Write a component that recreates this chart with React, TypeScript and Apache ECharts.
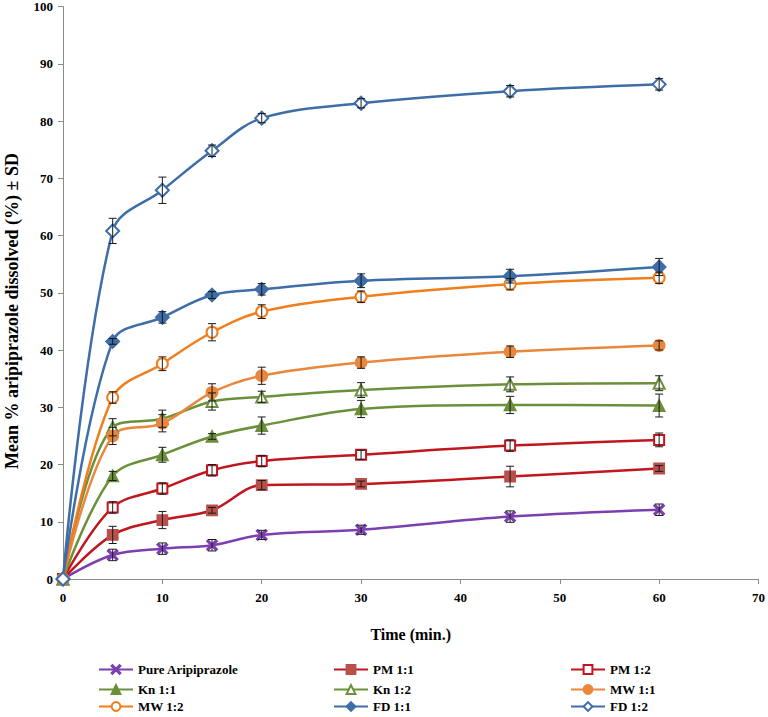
import React, { useEffect, useRef } from "react";
import * as echarts from "echarts";

const times = [0, 5, 10, 15, 20, 30, 45, 60];
const xTicks = [0, 10, 20, 30, 40, 50, 60, 70];
const yTicks = [0, 10, 20, 30, 40, 50, 60, 70, 80, 90, 100];

const seriesNames = [
  "Pure Aripiprazole",
  "PM 1:1",
  "PM 1:2",
  "Kn 1:1",
  "Kn 1:2",
  "MW 1:1",
  "MW 1:2",
  "FD 1:1",
  "FD 1:2",
];

const pureVals = [0, 4.2, 5.3, 5.9, 7.7, 8.6, 10.9, 12.1];
const pureSD = [0, 1.0, 1.0, 1.0, 0.8, 0.8, 1.0, 1.0];
const pm11Vals = [0, 7.7, 10.3, 12.0, 16.4, 16.6, 17.9, 19.3];
const pm11SD = [0, 1.5, 1.5, 0.5, 0.8, 0.5, 1.8, 0.5];
const pm12Vals = [0, 12.5, 15.8, 19.0, 20.6, 21.7, 23.3, 24.3];
const pm12SD = [0, 1.0, 1.0, 1.0, 1.0, 0.8, 1.0, 1.2];
const kn11Vals = [0, 18.0, 21.7, 24.9, 26.8, 29.7, 30.4, 30.3];
const kn11SD = [0, 0.8, 1.3, 0.5, 1.5, 1.5, 1.5, 2.0];
const kn12Vals = [0, 26.5, 28.0, 31.0, 31.8, 33.0, 34.0, 34.2];
const kn12SD = [0, 1.5, 1.5, 1.5, 1.0, 1.3, 1.3, 1.3];
const mw11Vals = [0, 25.0, 27.2, 32.6, 35.5, 37.8, 39.7, 40.8];
const mw11SD = [0, 1.5, 1.5, 1.5, 1.5, 1.0, 1.0, 0.8];
const mw12Vals = [0, 31.7, 37.6, 43.1, 46.7, 49.3, 51.5, 52.6];
const mw12SD = [0, 1.0, 1.2, 1.5, 1.2, 1.0, 1.0, 1.0];
const fd11Vals = [0, 41.5, 45.7, 49.6, 50.6, 52.1, 52.9, 54.5];
const fd11SD = [0, 0.5, 1.0, 0.6, 1.0, 1.2, 1.2, 1.5];
const fd12Vals = [0, 60.8, 67.9, 74.8, 80.5, 83.1, 85.2, 86.4];
const fd12SD = [0, 2.2, 2.3, 1.0, 0.8, 0.8, 1.0, 1.0];

const allVals = [pureVals, pm11Vals, pm12Vals, kn11Vals, kn12Vals, mw11Vals, mw12Vals, fd11Vals, fd12Vals];
const allSD = [pureSD, pm11SD, pm12SD, kn11SD, kn12SD, mw11SD, mw12SD, fd11SD, fd12SD];

const xSymbol = "path://M0,1 L1,0 L5,4 L9,0 L10,1 L6,5 L10,9 L9,10 L5,6 L1,10 L0,9 L4,5 Z";

const styles = [
  { line: "#7B3FB0", marker: "#7B3FB0", symbol: xSymbol, size: 10 },
  { line: "#C0171E", marker: "#B8504C", symbol: "rect", size: 10 },
  { line: "#C0171E", marker: "#C0171E", symbol: "emptyRect", size: 10 },
  { line: "#6C8F3A", marker: "#6C8F3A", symbol: "triangle", size: 11 },
  { line: "#6C8F3A", marker: "#6C8F3A", symbol: "emptyTriangle", size: 11 },
  { line: "#E9873D", marker: "#E9873D", symbol: "circle", size: 11 },
  { line: "#F07E1C", marker: "#F07E1C", symbol: "emptyCircle", size: 11 },
  { line: "#3E6DA8", marker: "#3E6DA8", symbol: "diamond", size: 13 },
  { line: "#3E6DA8", marker: "#3E6DA8", symbol: "emptyDiamond", size: 13 },
];

// legend grid: [name, column, row]
const legendLayout: [string, number, number][] = [
  ["Pure Aripiprazole", 0, 0],
  ["PM 1:1", 1, 0],
  ["PM 1:2", 2, 0],
  ["Kn 1:1", 0, 1],
  ["Kn 1:2", 1, 1],
  ["MW 1:1", 2, 1],
  ["MW 1:2", 0, 2],
  ["FD 1:1", 1, 2],
  ["FD 1:2", 2, 2],
];
const legendLefts = [98, 333, 570];
const legendRowCenters = [670, 690, 707];

const FONT = "'Liberation Serif', 'Times New Roman', serif";

export default function App() {
  const ref = useRef<HTMLDivElement>(null);
  useEffect(() => {
    if (!ref.current) return;
    const chart = echarts.init(ref.current, null, { renderer: "svg" });

    const lineSeries = seriesNames.map((name, i) => ({
      name,
      type: "line",
      smooth: 0.35,
      data: times.map((t, j) => [t, allVals[i][j]]),
      symbol: styles[i].symbol,
      symbolSize: styles[i].size,
      lineStyle: { color: styles[i].line, width: 2.5 },
      itemStyle: { color: styles[i].marker, borderWidth: 1.8, borderColor: styles[i].marker },
      z: 2,
    }));

    const errSeries = seriesNames.map((name, i) => ({
      name: "err " + name,
      type: "custom",
      data: times
        .map((t, j) => [t, allVals[i][j], allSD[i][j]])
        .filter((d) => d[2] > 0),
      encode: { x: 0, y: 1 },
      z: 5,
      renderItem: (params: any, api: any) => {
        const x = api.value(0);
        const y = api.value(1);
        const e = api.value(2);
        const top = api.coord([x, y + e]);
        const bot = api.coord([x, y - e]);
        const w = 4;
        const st = { stroke: "#1a1a1a", lineWidth: 1 };
        return {
          type: "group",
          children: [
            { type: "line", shape: { x1: top[0], y1: top[1], x2: bot[0], y2: bot[1] }, style: st },
            { type: "line", shape: { x1: top[0] - w, y1: top[1], x2: top[0] + w, y2: top[1] }, style: st },
            { type: "line", shape: { x1: bot[0] - w, y1: bot[1], x2: bot[0] + w, y2: bot[1] }, style: st },
          ],
        };
      },
    }));

    const option: any = {
      animation: false,
      backgroundColor: "#fff",
      textStyle: { fontFamily: FONT },
      grid: { left: 63, right: 8, top: 5, bottom: 138 },
      legend: legendLayout.map(([name, col, row]) => ({
        data: [name],
        orient: "horizontal",
        left: legendLefts[col],
        top: legendRowCenters[row] - 7,
        itemGap: 0,
        itemWidth: 34,
        itemHeight: 11,
        padding: 0,
        textStyle: { fontFamily: FONT, fontWeight: "bold", fontSize: 13, color: "#000" },
        selectedMode: false,
      })),
      graphic: [
        {
          type: "text",
          x: 12,
          y: 311,
          rotation: Math.PI / 2,
          style: {
            text: "Mean % aripiprazole dissolved (%) ± SD",
            fontFamily: FONT,
            fontWeight: "bold",
            fontSize: 18,
            fill: "#000",
            align: "center",
            verticalAlign: "middle",
          },
        },
      ],
      xAxis: {
        type: "value",
        min: xTicks[0],
        max: xTicks[xTicks.length - 1],
        interval: 10,
        name: "Time (min.)",
        nameLocation: "middle",
        nameGap: 47,
        nameTextStyle: { fontFamily: FONT, fontWeight: "bold", fontSize: 16, color: "#000" },
        axisLine: { lineStyle: { color: "#8a8a8a", width: 1 } },
        axisTick: { show: true, length: 5, lineStyle: { color: "#8a8a8a" } },
        axisLabel: { fontFamily: FONT, fontWeight: "bold", fontSize: 13, color: "#000", margin: 12 },
        splitLine: { show: false },
      },
      yAxis: {
        type: "value",
        min: yTicks[0],
        max: yTicks[yTicks.length - 1],
        interval: 10,
        axisLine: { show: true, lineStyle: { color: "#8a8a8a", width: 1 } },
        axisTick: { show: true, length: 5, lineStyle: { color: "#8a8a8a" } },
        axisLabel: { fontFamily: FONT, fontWeight: "bold", fontSize: 13, color: "#000", margin: 10 },
        splitLine: { show: false },
      },
      series: [...lineSeries, ...errSeries],
    };
    chart.setOption(option);
    return () => chart.dispose();
  }, []);
  return (
    <div
      ref={ref}
      style={{ position: "fixed", left: 0, top: 0, width: 768, height: 717, background: "#fff" }}
    />
  );
}
